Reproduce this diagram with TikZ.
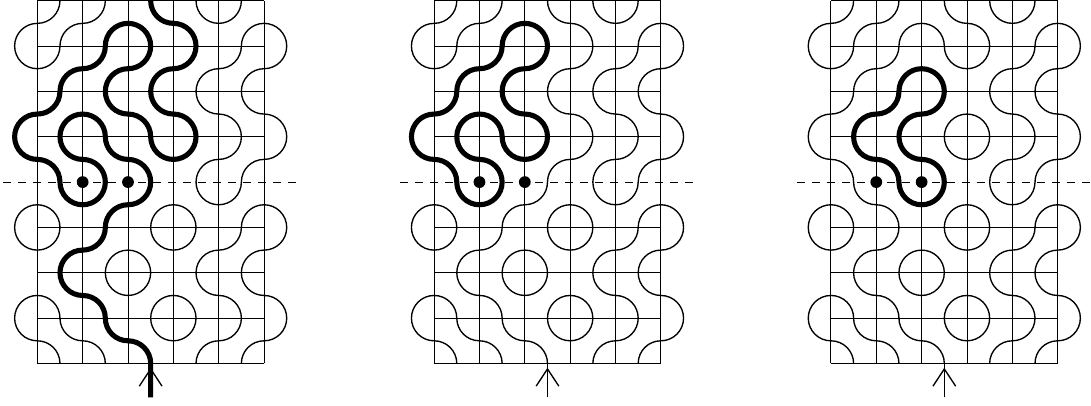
\documentclass[tikz,border=0pt]{standalone}
\usepackage{tikz}

\tikzset{
  gridline/.style={line width=0.6pt},
  strand/.style={line width=0.85pt},
  boldstrand/.style={line width=3.2pt, line join=round},
  cutline/.style={line width=0.55pt, dash pattern=on 5pt off 4.4pt},
  puncture/.style={fill=black},
}

% one row of tiles: 1 = corners top left and bottom right, -1 = the other two
\newcommand{\tilerow}[2]{
  \foreach \sg [count=\i from 0] in {#2} {
    \draw[strand] (\i,#1+.5) arc[start angle=-90*\sg, delta angle=90*\sg, radius=.5];
    \draw[strand] (\i+1,#1+.5) arc[start angle=90*\sg, delta angle=90*\sg, radius=.5];
  }
}

% grid, side arcs, cut line, punctures and the entry arrow
\newcommand{\panelframe}{
  \foreach \x in {0,...,5} {\draw[gridline] (\x,0) -- (\x,8);}
  \foreach \y in {0,1,2,3,5,6,7,8} {\draw[gridline] (0,\y) -- (5,\y);}
  \foreach \y in {1,3,5,7} {
    \draw[strand] (0,\y+.5) arc (90:270:.5);
    \draw[strand] (5,\y+.5) arc (90:-90:.5);
  }
  \draw[cutline] (-.75,4) -- (5.75,4);
  \fill[puncture] (1,4) circle (.13);
  \fill[puncture] (2,4) circle (.13);
  \draw[strand] (2.5,-.75) -- (2.5,0);
  \draw[strand] (2.25,-.5) -- (2.5,-.12) -- (2.75,-.5);
}

% rows shared by all three panels
\newcommand{\lowerrows}{
  \tilerow{2}{1,1,-1,1,1}
  \tilerow{1}{-1,-1,1,-1,-1}
  \tilerow{0}{-1,-1,-1,1,1}
}

\begin{document}
\begin{tikzpicture}
\useasboundingbox (-.8225,-.937) rectangle (23.235,8.015);

% left panel
\begin{scope}
\panelframe
\tilerow{7}{1,1,-1,-1,1}
\tilerow{6}{1,1,1,1,1}
\tilerow{5}{1,-1,-1,-1,-1}
\tilerow{4}{-1,-1,-1,1,1}
\tilerow{3}{-1,1,1,-1,1}
\lowerrows
\draw[boldstrand] (2.5,-.75) -- (2.5,0)
  \foreach \a/\d in {0/90,270/-90,0/90,270/-90,180/-90,270/90,180/-90,270/90,
    0/90,270/-90,0/90,90/90,180/90,90/-90,0/-90,270/-90,0/90,270/-90,180/-90,
    270/90,180/-90,270/90,180/-90,90/-90,0/-90,90/90,180/90,90/-90,180/90,
    270/90,0/90,270/-90,180/-90,270/90,0/90,270/-90}
    {arc[start angle=\a, delta angle=\d, radius=.5]};
\end{scope}

% middle panel
\begin{scope}[xshift=8.75cm]
\panelframe
\tilerow{7}{1,1,-1,-1,1}
\tilerow{6}{1,1,1,1,1}
\tilerow{5}{1,-1,-1,-1,-1}
\tilerow{4}{-1,-1,1,1,1}
\tilerow{3}{-1,1,1,-1,1}
\lowerrows
\draw[boldstrand] (2,4.5)
  \foreach \a/\d in {270/-90,0/90,90/90,180/90,90/-90,0/-90,270/-90,0/90,270/-90,
    180/-90,270/90,180/-90,270/90,180/-90,90/-90,0/-90,90/90,180/90,90/-90,0/-90}
    {arc[start angle=\a, delta angle=\d, radius=.5]} -- cycle;
\end{scope}

% right panel
\begin{scope}[xshift=17.5cm]
\panelframe
\tilerow{7}{1,1,-1,-1,1}
\tilerow{6}{1,1,-1,1,1}
\tilerow{5}{1,1,1,-1,-1}
\tilerow{4}{-1,-1,-1,1,1}
\tilerow{3}{-1,-1,1,-1,1}
\lowerrows
\draw[boldstrand] (2,6.5)
  \foreach \a/\d in {90/-90,0/-90,90/90,180/90,90/-90,0/-90,270/-90,0/90,270/-90,
    180/-90,270/90,180/-90}
    {arc[start angle=\a, delta angle=\d, radius=.5]} -- cycle;
\end{scope}
\end{tikzpicture}
\end{document}
